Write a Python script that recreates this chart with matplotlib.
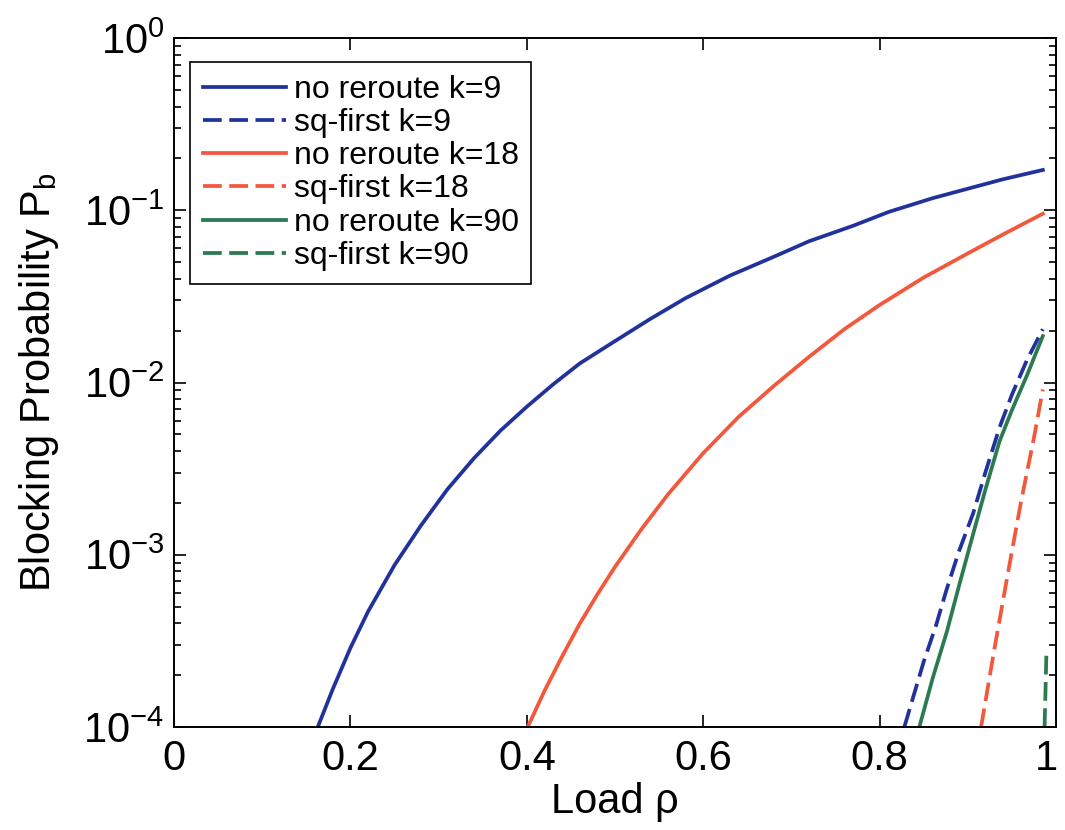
# %%

import matplotlib
matplotlib.use('Agg')
import matplotlib.pyplot as plt
import matplotlib.transforms as mtransforms
from matplotlib.ticker import LogLocator, FixedLocator

# %%

# load rho vs blocking probability
rho_nr9 = [0.163, 0.18, 0.20, 0.22, 0.25, 0.28, 0.31, 0.34, 0.37, 0.40, 0.43,
           0.46, 0.50, 0.54, 0.58, 0.63, 0.68, 0.72, 0.77, 0.81, 0.86, 0.90,
           0.94, 0.985]
pb_nr9 = [1e-4, 1.66e-4, 2.88e-4, 4.68e-4, 8.71e-4, 1.48e-3, 2.40e-3, 3.63e-3,
          5.25e-3, 7.24e-3, 9.77e-3, 0.0129, 0.0174, 0.0234, 0.0309, 0.0417,
          0.0537, 0.0661, 0.0813, 0.0977, 0.1175, 0.1334, 0.1514, 0.1714]

rho_sq9 = [0.828, 0.85, 0.864, 0.876, 0.89, 0.906, 0.92, 0.936, 0.95, 0.967,
           0.985]
pb_sq9 = [1e-4, 2.4e-4, 3.9e-4, 6.31e-4, 1.05e-3, 1.74e-3, 3.02e-3, 5.5e-3,
          8.51e-3, 0.0135, 0.0204]

rho_nr18 = [0.401, 0.42, 0.44, 0.46, 0.48, 0.50, 0.53, 0.56, 0.60, 0.64, 0.68,
            0.72, 0.76, 0.80, 0.85, 0.90, 0.94, 0.985]
pb_nr18 = [1e-4, 1.62e-4, 2.57e-4, 3.98e-4, 5.89e-4, 8.51e-4, 1.41e-3, 2.24e-3,
           3.89e-3, 6.31e-3, 9.55e-3, 0.0141, 0.0204, 0.0282, 0.0407, 0.0562,
           0.0724, 0.0955]

rho_sq18 = [0.915, 0.93, 0.945, 0.96, 0.975, 0.985]
pb_sq18 = [1e-4, 2.82e-4, 7.59e-4, 2.0e-3, 4.79e-3, 9.12e-3]

rho_nr90 = [0.845, 0.86, 0.876, 0.89, 0.906, 0.92, 0.936, 0.95, 0.967, 0.985]
pb_nr90 = [1e-4, 1.91e-4, 3.55e-4, 6.61e-4, 1.32e-3, 2.4e-3, 4.57e-3, 6.92e-3,
           0.011, 0.0186]

rho_sq90 = [0.987, 0.988, 0.989]
pb_sq90 = [1e-4, 1.6e-4, 2.6e-4]

x_ticks = [0, 0.2, 0.4, 0.6, 0.8, 1]
x_ticklabels = ['0', '0.2', '0.4', '0.6', '0.8', '1']

# %%

plt.rcParams['font.family'] = ['Liberation Sans', 'DejaVu Sans']
plt.rcParams['mathtext.fontset'] = 'custom'
plt.rcParams['mathtext.rm'] = 'Liberation Sans'
plt.rcParams['mathtext.it'] = 'Liberation Sans:italic'

c_blue = '#22329c'
c_red = '#f4583c'
c_green = '#2b7a52'
lw = 2.7
dash = (5, 2)

fig = plt.figure(figsize=(10.65, 8.3), dpi=100)
ax = fig.add_axes([0.1634, 0.1241, 0.8282, 0.8301])

ax.semilogy(rho_nr9, pb_nr9, '-', color=c_blue, lw=lw, label='no reroute k=9')
ax.semilogy(rho_sq9, pb_sq9, '--', color=c_blue, lw=lw, dashes=dash,
            label='sq-first k=9')
ax.semilogy(rho_nr18, pb_nr18, '-', color=c_red, lw=lw, label='no reroute k=18')
ax.semilogy(rho_sq18, pb_sq18, '--', color=c_red, lw=lw, dashes=dash,
            label='sq-first k=18')
ax.semilogy(rho_nr90, pb_nr90, '-', color=c_green, lw=lw, label='no reroute k=90')
ax.semilogy(rho_sq90, pb_sq90, '--', color=c_green, lw=lw, dashes=dash,
            label='sq-first k=90')

ax.set_xlim(0, 1)
ax.set_ylim(1e-4, 1)
ax.xaxis.set_major_locator(FixedLocator(x_ticks))
ax.set_xticklabels(x_ticklabels)
ax.yaxis.set_major_locator(LogLocator(base=10, numticks=10))
ax.yaxis.set_minor_locator(LogLocator(base=10, subs=range(2, 10), numticks=10))

ax.tick_params(which='both', direction='in', top=True, right=True,
               labelsize=30, width=1.2)
ax.tick_params(which='major', length=8.5)
ax.tick_params(which='minor', length=5)
ax.tick_params(axis='x', pad=9)
ax.tick_params(axis='y', pad=7)
for sp in ax.spines.values():
    sp.set_linewidth(1.4)

# keep the "1" at the right end inside the figure
shift = mtransforms.ScaledTranslation(-7 / 72, 0, fig.dpi_scale_trans)
last = ax.get_xticklabels()[-1]
last.set_transform(last.get_transform() + shift)

ax.set_xlabel('Load ρ', fontsize=30, labelpad=2)
ax.set_ylabel('Blocking Probability P$_{\\mathrm{b}}$', fontsize=30, labelpad=16)

leg = ax.legend(loc='upper left', bbox_to_anchor=(0.018, 0.965),
                borderaxespad=0, fontsize=23, handlelength=2.6,
                handletextpad=0.25, labelspacing=0.1, borderpad=0.4,
                fancybox=False, framealpha=1, edgecolor='black')
leg.get_frame().set_linewidth(1.2)

fig.savefig('out.png', dpi=100)
